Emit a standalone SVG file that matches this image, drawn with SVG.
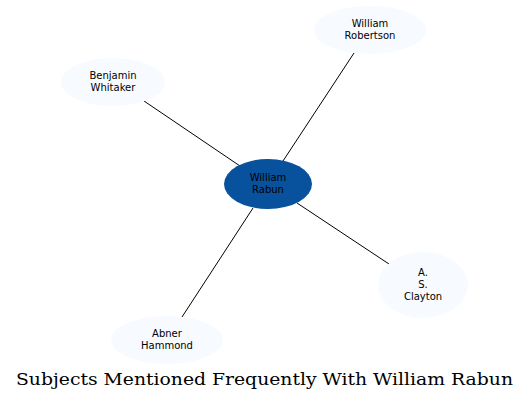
<svg xmlns="http://www.w3.org/2000/svg" width="529" height="401" viewBox="0 0 529 401">
<style>
.n{fill:#f7fbff;stroke:none}
.c{fill:#08519c;stroke:none}
.t{font-family:"DejaVu Sans",sans-serif;font-size:10px;fill:#000;text-anchor:middle}
.e{stroke:#000;stroke-width:1;fill:none}
.title{font-family:"DejaVu Serif",serif;font-size:17px;fill:#000}
</style>
<rect width="529" height="401" fill="#fff"/>
<g id="edges">
<line class="e" x1="283" y1="161" x2="354" y2="53"/>
<line class="e" x1="240" y1="166" x2="144" y2="101"/>
<line class="e" x1="297" y1="203" x2="389" y2="264"/>
<line class="e" x1="253" y1="208" x2="182" y2="317"/>
</g>
<g id="rabun">
<ellipse class="c" cx="268" cy="184" rx="44" ry="25"/>
<text class="t" x="268" y="181">William</text>
<text class="t" x="268" y="193">Rabun</text>
</g>
<g id="robertson">
<ellipse class="n" cx="370" cy="30" rx="56" ry="24"/>
<text class="t" x="370" y="27">William</text>
<text class="t" x="370" y="39">Robertson</text>
</g>
<g id="whitaker">
<ellipse class="n" cx="113" cy="82" rx="52" ry="24"/>
<text class="t" x="113" y="79">Benjamin</text>
<text class="t" x="113" y="91">Whitaker</text>
</g>
<g id="clayton">
<ellipse class="n" cx="423" cy="285" rx="45" ry="33"/>
<text class="t" x="423" y="276">A.</text>
<text class="t" x="423" y="288">S.</text>
<text class="t" x="423" y="300">Clayton</text>
</g>
<g id="hammond">
<ellipse class="n" cx="167" cy="340" rx="56" ry="24"/>
<text class="t" x="167" y="337">Abner</text>
<text class="t" x="167" y="349">Hammond</text>
</g>
<text class="title" x="16" y="385" textLength="497" lengthAdjust="spacingAndGlyphs">Subjects Mentioned Frequently With William Rabun</text>
</svg>
